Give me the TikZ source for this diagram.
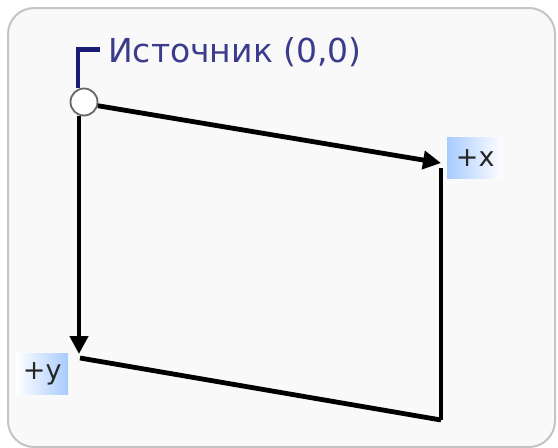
\documentclass[tikz,border=0pt]{standalone}
\usepackage{fontspec}
\setmainfont{DejaVu Sans}
\usepackage{tikz}
\usetikzlibrary{arrows.meta, positioning, calc}
\definecolor{panelbg}{HTML}{F9F9F9}
\definecolor{panelrim}{HTML}{C4C4C4}
\definecolor{leadblue}{HTML}{1A1A78}
\definecolor{lblblue}{HTML}{A8CBFF}
\tikzset{
  panel/.style ={draw=panelrim, line width=2pt, fill=panelbg, rounded corners=26pt},
  orig/.style  ={circle, draw=black!60, line width=1.8pt, fill=white, minimum size=27pt, inner sep=0pt},
  axis/.style  ={line width=4.8pt, -{Triangle[length=18pt, width=18pt]}},
  edge/.style  ={line width=4.8pt},
  lead/.style  ={draw=leadblue, line width=4.8pt},
  srctxt/.style={text=leadblue!85, font=\fontsize{33}{36}\selectfont, inner sep=0pt, anchor=base west},
  axlbl/.style ={font=\fontsize{27}{30}\selectfont, inner sep=0pt, minimum height=41pt, text=black!85},
}
\begin{document}
\begin{tikzpicture}[x=1pt, y=-1pt]
  \useasboundingbox (0,0) rectangle (558,448);
  \draw[panel] (8,8) rectangle (555,447);
  % points of the frame
  \node[orig] (src) at (84,102) {};
  \coordinate (xend) at (441,163);
  \coordinate (yend) at (79,354);
  \coordinate (br) at (441,420);
  \node[srctxt] (srclbl) at (108,62) {Источник (0,0)};
  \node[axlbl, left color=lblblue, right color=white, minimum width=56pt, anchor=west] (xlbl) at (447,158) {+x};
  \node[axlbl, left color=white, right color=lblblue, minimum width=52pt, anchor=west] (ylbl) at (16,374) {+y};
  \draw[axis] (src.-15) -- (xend);
  \draw[axis] (src.south -| yend) -- (yend);
  \draw[edge] ($(xend)+(0,5)$) -- (br);
  \draw[edge] ($(yend)+(1,4)$) -- (br);
  \draw[lead] ($(src.north)+(-6,0)$) |- ($(srclbl.west)+(-8,-2)$);
\end{tikzpicture}
\end{document}
